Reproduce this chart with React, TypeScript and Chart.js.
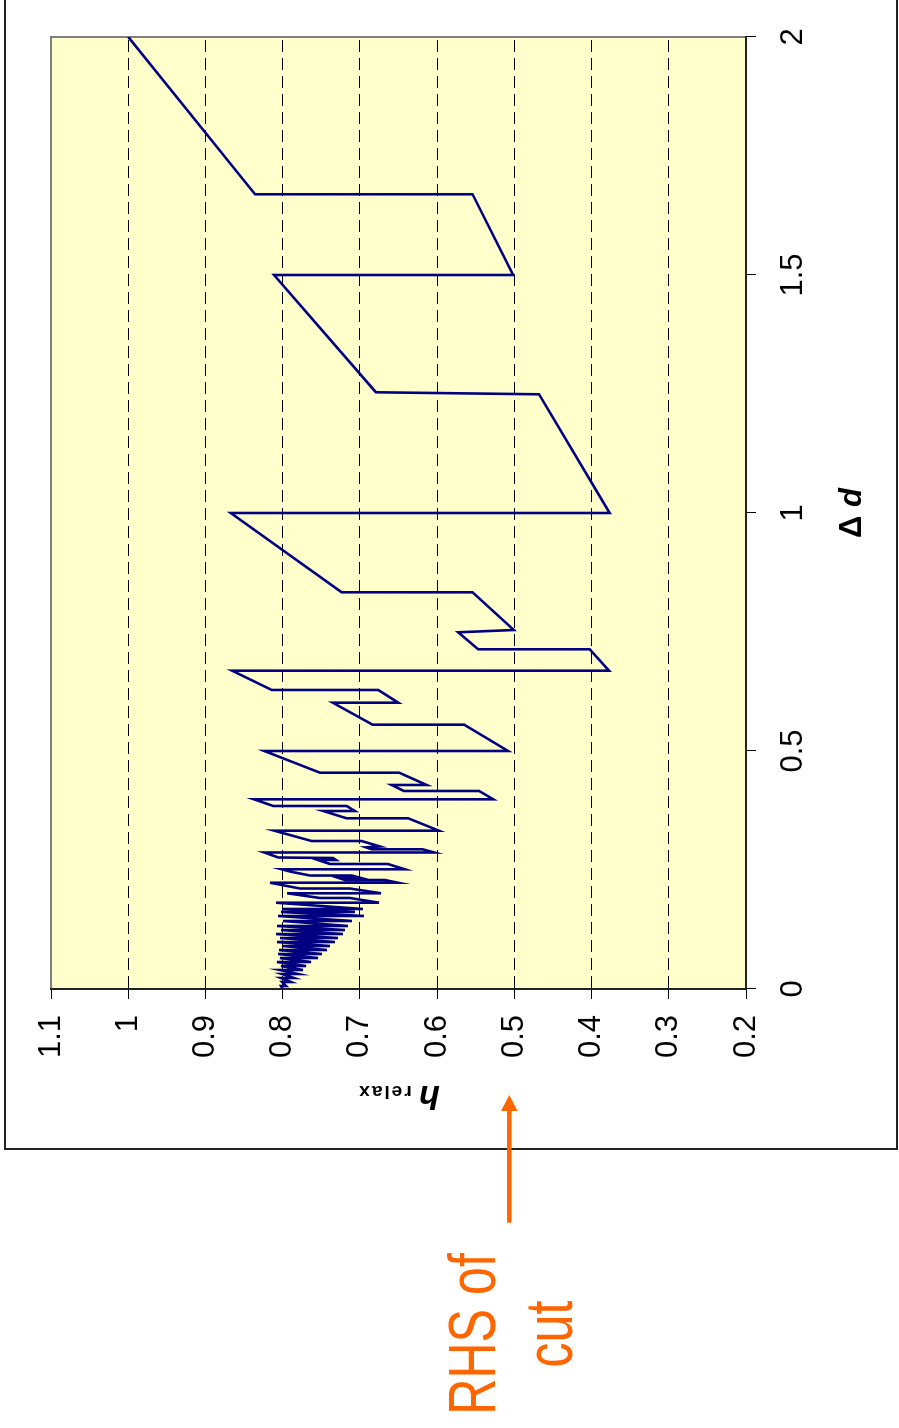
import React, { useEffect, useRef } from "react";
import { Chart, registerables } from "chart.js";

Chart.register(...registerables);

// Δd values (x) and h_relax values (y) of the traced path, in drawing order
const deltaD = [
  0,
  0.0063, 0.0063, 0.0147, 0.0147, 0.0231, 0.0231, 0.0315, 0.0315,
  0.0399, 0.0399, 0.0483, 0.0483, 0.0567, 0.0567, 0.0651, 0.0651,
  0.0735, 0.0735, 0.0819, 0.0819, 0.0903, 0.0903, 0.0987, 0.0987,
  0.1071, 0.1071, 0.1155, 0.1155, 0.1239, 0.1239, 0.1324, 0.1324,
  0.1429, 0.1429, 0.1534, 0.1534, 0.1618, 0.1618, 0.1681, 0.1681,
  0.1813, 0.1813,
  0.1912, 0.1912, 0.2011, 0.2011, 0.2111, 0.2111, 0.2233, 0.2233,
  0.229, 0.229, 0.2338, 0.2338, 0.2384, 0.2384,
  0.2468,
  0.2515, 0.2515, 0.2626, 0.2626, 0.271, 0.271, 0.2752, 0.2763,
  0.2868, 0.2868, 0.2935, 0.2935, 0.2977, 0.2994, 0.3109, 0.3109,
  0.3326, 0.3326, 0.3586, 0.3586, 0.3739, 0.3739, 0.3845, 0.3845,
  0.3985, 0.3985, 0.416, 0.416, 0.4286, 0.4286, 0.4544, 0.4544,
  0.5, 0.5, 0.5553, 0.5553, 0.6015, 0.6015, 0.6282, 0.6282,
  0.6687, 0.6687, 0.7137, 0.7137, 0.7494, 0.7542, 0.8334, 0.8334,
  1.0, 1.0, 1.2494, 1.2536, 1.5, 1.5, 1.6696, 1.6696,
  2.0,
];

const hRelax = [
  0.8,
  0.8021, 0.7956, 0.8008, 0.7892, 0.8021, 0.7853, 0.8008, 0.7801,
  0.8034, 0.7737, 0.8021, 0.7698, 0.8073, 0.7633, 0.8034, 0.7542,
  0.806, 0.7491, 0.8047, 0.7426, 0.7995, 0.7387, 0.8073, 0.7323,
  0.8034, 0.7284, 0.8086, 0.7219, 0.8021, 0.7193, 0.8073, 0.7154,
  0.7995, 0.7103, 0.806, 0.6947, 0.8021, 0.7064, 0.8008, 0.696,
  0.8086, 0.6753,
  0.7128, 0.7517, 0.7943, 0.6727, 0.7128, 0.7775, 0.8163, 0.6508,
  0.6676, 0.7193, 0.7284, 0.6999, 0.7103, 0.7646,
  0.7905,
  0.8012, 0.6417, 0.6637, 0.7387, 0.7542, 0.731, 0.7348, 0.8056,
  0.8237, 0.6038, 0.6188, 0.6848, 0.6922, 0.674, 0.6977, 0.7624,
  0.8108, 0.5977, 0.6374, 0.7171, 0.7474, 0.7064, 0.7171, 0.8121,
  0.837, 0.5272, 0.5456, 0.643, 0.6589, 0.6136, 0.6491, 0.7517,
  0.8237, 0.5081, 0.565, 0.6835, 0.7352, 0.6504, 0.6762, 0.8141,
  0.8655, 0.3774, 0.4024, 0.5469, 0.5728, 0.5007, 0.5541, 0.7236,
  0.8672, 0.3765, 0.468, 0.6792, 0.8112, 0.5016, 0.5541, 0.8357,
  1.0,
];

const xTicks = [0, 0.5, 1, 1.5, 2];
const yTicks = [0.2, 0.3, 0.4, 0.5, 0.6, 0.7, 0.8, 0.9, 1, 1.1];
const xTitleParts = ["Δ ", "d"];
const yTitleParts = ["h", " relax"];
const noteLines = ["RHS of", "cut"];

const FONT = '"Liberation Sans", Arial, sans-serif';
const CW = 1150;
const CH = 899;

const plotDecor = {
  id: "plotDecor",
  beforeDraw(chart: any) {
    const { ctx, chartArea } = chart;
    const { left, top, right, bottom } = chartArea;
    ctx.save();
    ctx.fillStyle = "#FFFFCC";
    ctx.fillRect(left, top, right - left, bottom - top);
    ctx.strokeStyle = "#808080";
    ctx.lineWidth = 2;
    ctx.beginPath();
    ctx.moveTo(left, top);
    ctx.lineTo(right, top);
    ctx.lineTo(right, bottom);
    ctx.stroke();
    ctx.restore();
  },
  afterDraw(chart: any) {
    const { ctx, chartArea } = chart;
    const { left, top, right, bottom } = chartArea;
    ctx.save();
    ctx.fillStyle = "#000";
    ctx.textBaseline = "alphabetic";
    // x-axis title: "Δ d"
    const fA = `bold 31px ${FONT}`;
    const fB = `italic bold 31px ${FONT}`;
    ctx.font = fA;
    const wA = ctx.measureText(xTitleParts[0]).width;
    ctx.font = fB;
    const wB = ctx.measureText(xTitleParts[1]).width;
    const sx = (left + right) / 2 - (wA + wB) / 2;
    const by = bottom + 115;
    ctx.textAlign = "left";
    ctx.font = fA;
    ctx.fillText(xTitleParts[0], sx, by);
    ctx.font = fB;
    ctx.fillText(xTitleParts[1], sx + wA, by);
    // y-axis title: "h relax"
    ctx.translate(left - 97, (top + bottom) / 2);
    ctx.rotate(-Math.PI / 2);
    const fH = `italic bold 34px ${FONT}`;
    const fR = `bold 19px ${FONT}`;
    ctx.font = fH;
    const wH = ctx.measureText(yTitleParts[0]).width;
    ctx.font = fR;
    (ctx as any).letterSpacing = "2px";
    const wR = ctx.measureText(yTitleParts[1]).width;
    const s0 = -(wH + wR) / 2;
    ctx.fillText(yTitleParts[1], s0 + wH, 0);
    (ctx as any).letterSpacing = "0px";
    ctx.font = fH;
    ctx.fillText(yTitleParts[0], s0, 0);
    ctx.restore();
  },
};

export default function App() {
  const ref = useRef<HTMLCanvasElement | null>(null);

  useEffect(() => {
    if (!ref.current) return;
    const chart = new Chart(ref.current, {
      type: "line",
      data: {
        datasets: [
          {
            data: deltaD.map((d, i) => ({ x: d, y: hRelax[i] })),
            borderColor: "#000080",
            borderWidth: 2.6,
            pointRadius: 0,
            tension: 0,
            fill: false,
          },
        ],
      },
      options: {
        animation: false,
        responsive: false,
        devicePixelRatio: 1,
        layout: { padding: { top: 51, right: 37, left: 0, bottom: 0 } },
        plugins: { legend: { display: false }, tooltip: { enabled: false } },
        scales: {
          x: {
            type: "linear",
            min: 0,
            max: 2,
            afterBuildTicks: (s: any) => {
              s.ticks = xTicks.map((v) => ({ value: v }));
            },
            afterFit: (s: any) => {
              s.height = CH - 746;
            },
            ticks: {
              font: { family: FONT, size: 31 },
              color: "#000",
              padding: 19,
              maxRotation: 0,
              autoSkip: false,
              callback: (v: any) => String(v),
            },
            grid: {
              drawOnChartArea: false,
              drawTicks: true,
              tickLength: 10,
              tickColor: "#000",
              tickWidth: 1,
            },
            border: { display: true, color: "#222", width: 2 },
          },
          y: {
            type: "linear",
            min: 0.2,
            max: 1.1,
            afterBuildTicks: (s: any) => {
              s.ticks = yTicks.map((v) => ({ value: v }));
            },
            afterFit: (s: any) => {
              s.width = 161;
            },
            ticks: {
              font: { family: FONT, size: 31 },
              color: "#000",
              padding: 16,
              autoSkip: false,
              callback: (v: any) => String(v),
            },
            grid: {
              drawOnChartArea: true,
              color: (c: any) =>
                c.tick && (c.tick.value === 0.2 || c.tick.value === 1.1)
                  ? "rgba(0,0,0,0)"
                  : "#000",
              lineWidth: 1,
              drawTicks: true,
              tickLength: 10,
              tickColor: "#000",
              tickWidth: 1,
            },
            border: { display: true, color: "#222", width: 2, dash: [12, 6] },
          },
        },
      } as any,
      plugins: [plotDecor],
    });
    return () => chart.destroy();
  }, []);

  return (
    <div
      style={{
        position: "absolute",
        left: 0,
        top: 0,
        width: 899,
        height: 1428,
        overflow: "hidden",
        background: "#fff",
      }}
    >
      <div
        style={{
          position: "absolute",
          left: 4,
          top: -10,
          width: 894,
          height: 1160,
          boxSizing: "border-box",
          border: "2px solid #222",
        }}
      />
      <div
        style={{
          position: "absolute",
          left: 0,
          top: 0,
          width: CW,
          height: CH,
          transformOrigin: "0 0",
          transform: `translate(0px, ${CW}px) rotate(-90deg)`,
        }}
      >
        <canvas
          ref={ref}
          width={CW}
          height={CH}
          style={{ display: "block", width: CW, height: CH }}
        />
      </div>
      <svg
        width={899}
        height={1428}
        style={{ position: "absolute", left: 0, top: 0, pointerEvents: "none" }}
      >
        <line x1={509.3} y1={1222.7} x2={509.3} y2={1106} stroke="#FF6600" strokeWidth={4.5} />
        <polygon points="509.3,1095 501,1111 517.6,1111" fill="#FF6600" />
      </svg>
      <div
        style={{
          position: "absolute",
          left: 511 - 150,
          top: 1334 - 77,
          width: 300,
          height: 154,
          transformOrigin: "50% 50%",
          transform: "rotate(-90deg) scaleX(0.76)",
          fontFamily: FONT,
          fontSize: 66,
          lineHeight: "77px",
          color: "#FF6600",
          textAlign: "center",
          whiteSpace: "pre",
        }}
      >
        {noteLines[0]}
        <br />
        {noteLines[1]}
      </div>
    </div>
  );
}
